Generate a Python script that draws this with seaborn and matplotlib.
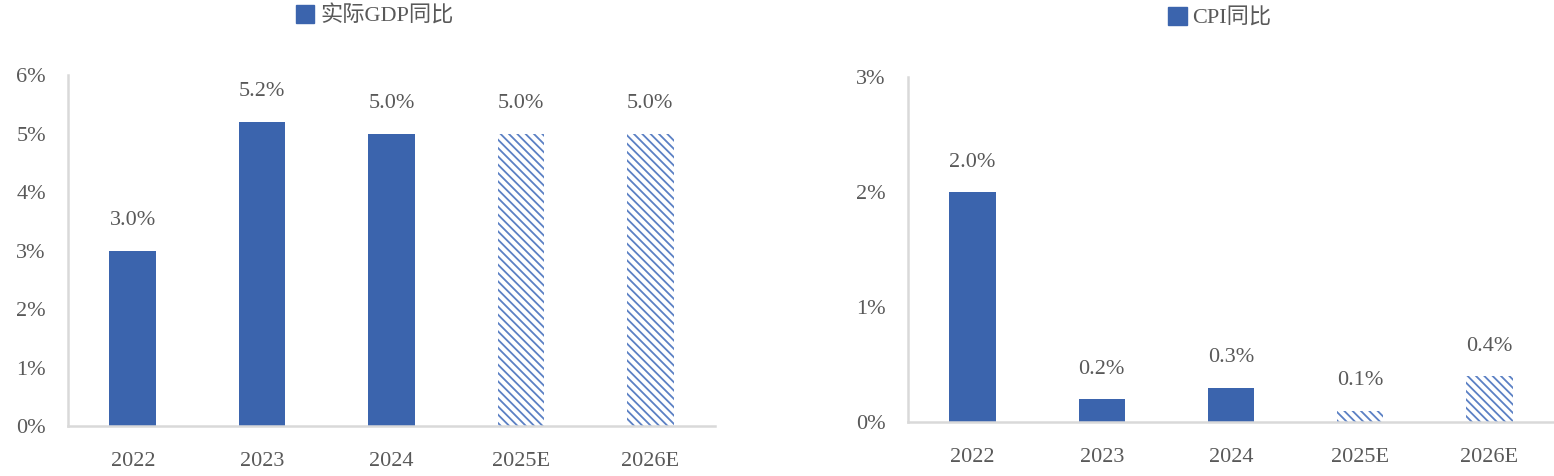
import matplotlib
matplotlib.use("Agg")
import matplotlib.pyplot as plt
import matplotlib.patches as mpatches
import seaborn as sns

# data
years = ["2022", "2023", "2024", "2025E", "2026E"]
gdp = [3.0, 5.2, 5.0, 5.0, 5.0]
cpi = [2.0, 0.2, 0.3, 0.1, 0.4]
forecast = [False, False, False, True, True]

blue = "#3B64AD"
hatch_blue = "#5B80C4"
grey = "#595959"
axis_grey = "#D9D9D9"

sns.set_style("white")
plt.rcParams['font.family'] = ['Liberation Serif', 'Noto Sans CJK SC', 'DejaVu Sans']
plt.rcParams['hatch.linewidth'] = 1.3

fig = plt.figure(figsize=(15.54, 4.76), dpi=100)
ax1 = fig.add_axes([0.0438, 0.105, 0.4163, 0.7374])
ax2 = fig.add_axes([0.5843, 0.1134, 0.4157, 0.7248])

FS = 16


def draw(ax, vals, ymax, label, offset, legend_x, legend_y):
    sns.barplot(x=years, y=vals, color=blue, width=0.36, saturation=1, ax=ax)
    for p, f in zip(ax.patches, forecast):
        p.set_linewidth(0)
        if f:
            p.set_facecolor("white")
            p.set_edgecolor(hatch_blue)
            p.set_hatch("\\\\\\\\")
    # value labels above the bars
    for i, v in enumerate(vals):
        ax.text(i, v + offset, f"{v:.1f}%", ha="center", va="center",
                fontsize=FS, color=grey)
    ax.set_ylim(0, ymax)
    ax.set_yticks(range(0, ymax + 1))
    ax.set_yticklabels([f"{t}%" for t in range(0, ymax + 1)])
    ax.set_xlim(-0.5, 4.5)
    sns.despine(ax=ax)
    for s in ("left", "bottom"):
        ax.spines[s].set_color(axis_grey)
        ax.spines[s].set_linewidth(1.8)
    ax.tick_params(axis="y", length=0, pad=16, labelsize=FS, labelcolor=grey)
    ax.tick_params(axis="x", length=0, pad=19, labelsize=FS, labelcolor=grey)
    ax.set_xlabel("")
    ax.set_ylabel("")
    fig.legend([mpatches.Patch(color=blue)], [label], loc="center",
               bbox_to_anchor=(legend_x, legend_y), frameon=False,
               fontsize=FS, labelcolor=grey, handlelength=0.85,
               handleheight=0.85, handletextpad=0.25)


draw(ax1, gdp, 6, "实际GDP同比", 0.52, 0.241, 0.966)
draw(ax2, cpi, 3, "CPI同比", 0.26, 0.785, 0.962)

fig.savefig("out.png", dpi=100)
